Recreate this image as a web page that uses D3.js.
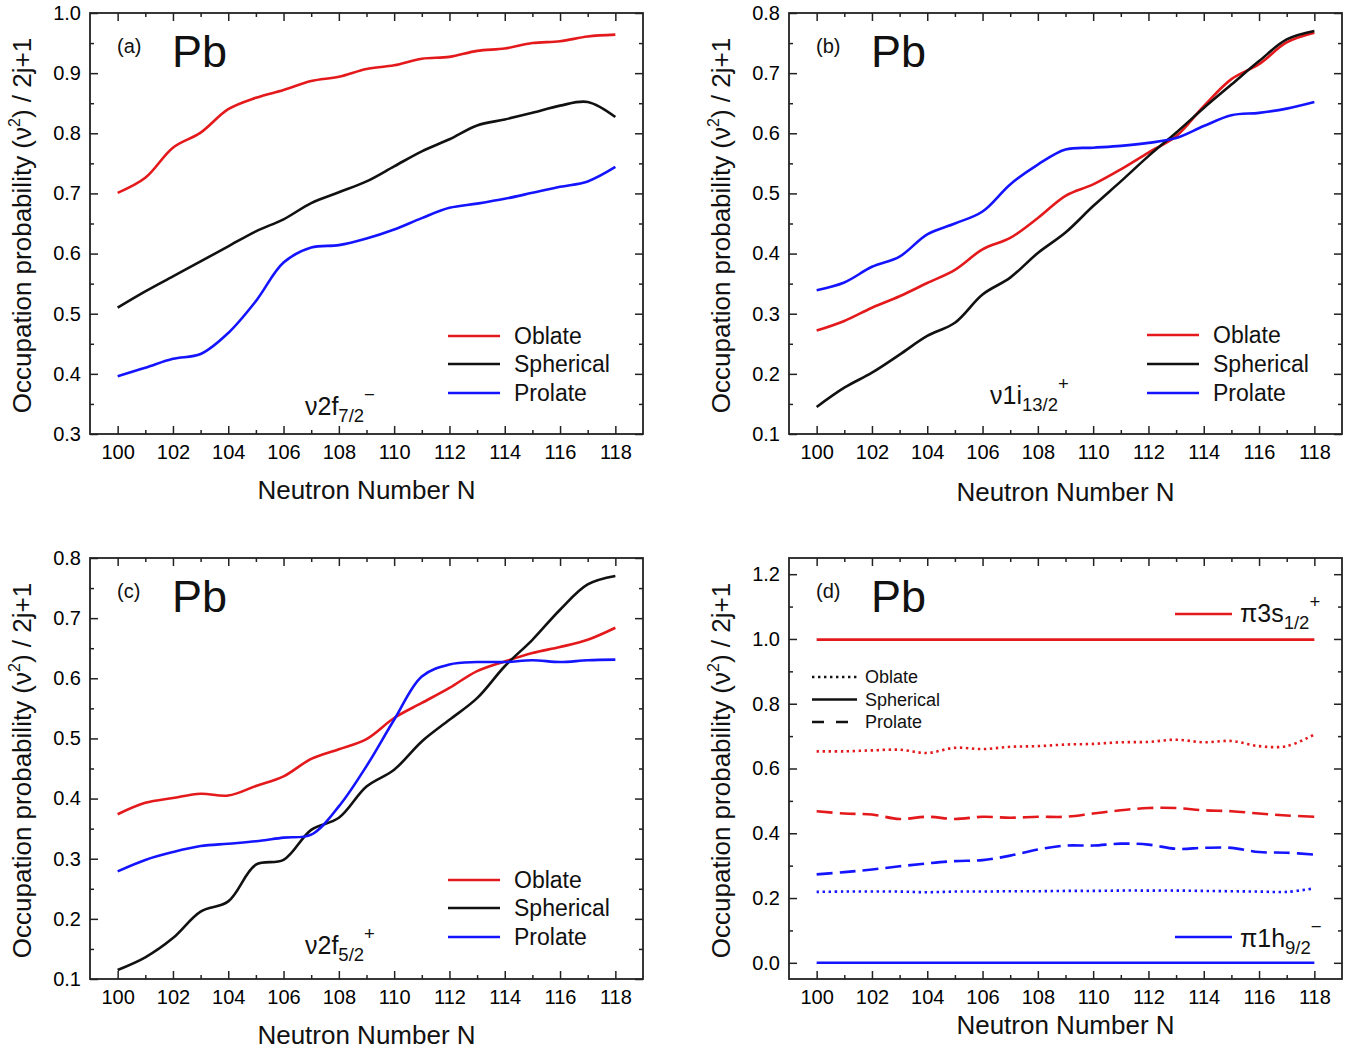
<!DOCTYPE html>
<html>
<head>
<meta charset="utf-8">
<script src="https://cdn.jsdelivr.net/npm/d3@7/dist/d3.min.js"></script>
<style>
body{margin:0;background:#fff;}
</style>
</head>
<body>
<svg id="mysvg" width="1360" height="1052"></svg>
<script>
// neutron numbers on the x axis
var neutrons = [100,101,102,103,104,105,106,107,108,109,110,111,112,113,114,115,116,117,118];
var xTicks = [100,102,104,106,108,110,112,114,116,118];
var xMinor = [101,103,105,107,109,111,113,115,117];

// (a) nu 2f7/2-
var a_oblate    = [0.701,0.726,0.776,0.801,0.840,0.859,0.872,0.887,0.894,0.907,0.913,0.924,0.927,0.937,0.941,0.950,0.953,0.961,0.964];
var a_spherical = [0.510,0.537,0.562,0.587,0.612,0.637,0.657,0.684,0.702,0.720,0.745,0.770,0.790,0.813,0.823,0.834,0.846,0.852,0.827];
var a_prolate   = [0.396,0.410,0.425,0.433,0.468,0.521,0.585,0.610,0.614,0.625,0.640,0.659,0.676,0.683,0.691,0.701,0.711,0.720,0.744];
var a_yTicks = [0.3,0.4,0.5,0.6,0.7,0.8,0.9,1.0];

// (b) nu 1i13/2+
var b_oblate    = [0.272,0.288,0.310,0.329,0.351,0.373,0.407,0.426,0.459,0.496,0.515,0.540,0.568,0.595,0.645,0.690,0.715,0.751,0.767];
var b_spherical = [0.145,0.177,0.202,0.232,0.263,0.285,0.332,0.360,0.401,0.435,0.479,0.520,0.562,0.601,0.642,0.681,0.720,0.756,0.770];
var b_prolate   = [0.339,0.352,0.378,0.395,0.432,0.450,0.470,0.515,0.548,0.573,0.576,0.579,0.584,0.592,0.612,0.630,0.634,0.641,0.652];
var b_yTicks = [0.1,0.2,0.3,0.4,0.5,0.6,0.7,0.8];

// (c) nu 2f5/2+
var c_oblate    = [0.374,0.393,0.401,0.408,0.405,0.421,0.437,0.466,0.482,0.499,0.534,0.559,0.584,0.612,0.628,0.642,0.652,0.664,0.684];
var c_spherical = [0.115,0.136,0.168,0.212,0.229,0.290,0.298,0.348,0.368,0.420,0.448,0.495,0.531,0.567,0.620,0.664,0.714,0.756,0.770];
var c_prolate   = [0.279,0.298,0.311,0.321,0.325,0.329,0.335,0.340,0.387,0.454,0.531,0.603,0.623,0.627,0.627,0.630,0.627,0.630,0.631];
var c_yTicks = [0.1,0.2,0.3,0.4,0.5,0.6,0.7,0.8];

// (d) proton 3s1/2+ (red) and 1h9/2- (blue)
var d_s_oblate    = [0.653,0.653,0.656,0.658,0.648,0.664,0.660,0.667,0.669,0.674,0.676,0.681,0.682,0.689,0.681,0.685,0.669,0.669,0.705];
var d_s_spherical = [0.998,0.998,0.998,0.998,0.998,0.998,0.998,0.998,0.998,0.998,0.998,0.998,0.998,0.998,0.998,0.998,0.998,0.998,0.998];
var d_s_prolate   = [0.468,0.461,0.458,0.444,0.451,0.444,0.451,0.448,0.451,0.451,0.461,0.471,0.478,0.478,0.471,0.468,0.461,0.455,0.451];
var d_h_oblate    = [0.219,0.220,0.220,0.220,0.218,0.220,0.220,0.221,0.221,0.222,0.222,0.223,0.223,0.223,0.222,0.221,0.220,0.219,0.230];
var d_h_spherical = [0.000,0.000,0.000,0.000,0.000,0.000,0.000,0.000,0.000,0.000,0.000,0.000,0.000,0.000,0.000,0.000,0.000,0.000,0.000];
var d_h_prolate   = [0.273,0.280,0.288,0.298,0.307,0.314,0.317,0.331,0.350,0.362,0.362,0.368,0.365,0.352,0.355,0.355,0.342,0.340,0.334];
var d_yTicks = [0.0,0.2,0.4,0.6,0.8,1.0,1.2];

var shapeNames = ["Oblate","Spherical","Prolate"];

var FONT = "'Liberation Sans', Arial, sans-serif";
var RED = "#e3191c", BLUE = "#1414ff";
var W = 553, H = 421;

var svg = d3.select("#mysvg").attr("font-family", FONT);

function pack(vals){
  return neutrons.map(function(n,i){ return {n:n, v:vals[i]}; });
}

function drawPanel(p){
  var g = svg.append("g").attr("transform","translate(" + p.left + "," + p.top + ")");
  var x = d3.scaleLinear().domain([99,119]).range([0,W]);
  var y = d3.scaleLinear().domain(p.ydomain).range([H,0]);

  function styleAxis(sel){
    sel.attr("font-family", FONT).attr("font-size", 20).attr("fill","#111");
    sel.select(".domain").remove();
    sel.selectAll(".tick line").attr("stroke","#222").attr("stroke-width",1.5);
  }

  // bottom / top
  g.append("g").attr("transform","translate(0," + H + ")")
    .call(d3.axisBottom(x).tickValues(xTicks).tickSize(-8).tickPadding(11).tickFormat(d3.format("d")))
    .call(styleAxis);
  g.append("g").attr("transform","translate(0," + H + ")")
    .call(d3.axisBottom(x).tickValues(xMinor).tickSize(-4).tickFormat(""))
    .call(styleAxis);
  g.append("g")
    .call(d3.axisTop(x).tickValues(xTicks).tickSize(-8).tickFormat(""))
    .call(styleAxis);
  g.append("g")
    .call(d3.axisTop(x).tickValues(xMinor).tickSize(-4).tickFormat(""))
    .call(styleAxis);

  // left / right
  g.append("g")
    .call(d3.axisLeft(y).tickValues(p.yTicks).tickSize(-8).tickPadding(9).tickFormat(d3.format(".1f")))
    .call(styleAxis);
  g.append("g")
    .call(d3.axisLeft(y).tickValues(p.yMinor).tickSize(-4).tickFormat(""))
    .call(styleAxis);
  g.append("g").attr("transform","translate(" + W + ",0)")
    .call(d3.axisRight(y).tickValues(p.yTicks).tickSize(-8).tickFormat(""))
    .call(styleAxis);
  g.append("g").attr("transform","translate(" + W + ",0)")
    .call(d3.axisRight(y).tickValues(p.yMinor).tickSize(-4).tickFormat(""))
    .call(styleAxis);

  g.append("rect").attr("width",W).attr("height",H)
    .attr("fill","none").attr("stroke","#222").attr("stroke-width",1.8);

  var line = d3.line()
    .x(function(d){ return x(d.n); })
    .y(function(d){ return y(d.v); })
    .curve(d3.curveCatmullRom.alpha(0.5));

  p.series.forEach(function(s){
    g.append("path")
      .datum(pack(s.vals))
      .attr("d", line)
      .attr("fill","none")
      .attr("stroke", s.color)
      .attr("stroke-width", 2.6)
      .attr("stroke-dasharray", s.dash || null);
  });

  // axis titles
  g.append("text")
    .attr("x", W/2).attr("y", p.xTitleY)
    .attr("text-anchor","middle")
    .attr("font-size", 26).attr("fill","#111")
    .text("Neutron Number N");

  var yt = g.append("text")
    .attr("transform","translate(-59," + (H/2 + 2) + ") rotate(-90)")
    .attr("text-anchor","middle")
    .attr("font-size", 26).attr("fill","#111");
  yt.append("tspan").text("Occupation probability (\u03BD");
  yt.append("tspan").attr("font-size",16).attr("dy",-11).text("2");
  yt.append("tspan").attr("dy",11).text(") / 2j+1");

  // panel tag and element
  g.append("text").attr("x", 27).attr("y", 40).attr("font-size", 20).attr("fill","#111").text(p.tag);
  g.append("text").attr("x", 82).attr("y", 54).attr("font-size", 45).attr("fill","#111").text("Pb");

  return {g:g, x:x, y:y};
}

function orbitLabel(g, xPos, yPos, main, sub, sup, size){
  var t = g.append("text").attr("x", xPos).attr("y", yPos).attr("font-size", size).attr("fill","#111");
  t.append("tspan").text(main);
  t.append("tspan").attr("font-size", size*0.74).attr("dy", size*0.28).text(sub);
  t.append("tspan").attr("font-size", size*0.74).attr("dy", -size*0.85).text(sup);
}

function colourLegend(g, ys){
  var cols = [RED, "#111", BLUE];
  shapeNames.forEach(function(name,i){
    g.append("line").attr("x1",358).attr("x2",410).attr("y1",ys[i]).attr("y2",ys[i])
      .attr("stroke", cols[i]).attr("stroke-width",2.6);
    g.append("text").attr("x",424).attr("y",ys[i]).attr("dy","0.35em")
      .attr("font-size",23).attr("fill","#111").text(name);
  });
}

// (a)
var pa = drawPanel({
  left:90, top:13, ydomain:[0.3,1.0], yTicks:a_yTicks,
  yMinor:[0.35,0.45,0.55,0.65,0.75,0.85,0.95], tag:"(a)", xTitleY:486,
  series:[{vals:a_oblate,color:RED},{vals:a_spherical,color:"#111"},{vals:a_prolate,color:BLUE}]
});
colourLegend(pa.g, [323,351,380]);
orbitLabel(pa.g, 215, 402, "\u03BD2f", "7/2", "\u2212", 25);

// (b)
var pb = drawPanel({
  left:789, top:13, ydomain:[0.1,0.8], yTicks:b_yTicks,
  yMinor:[0.15,0.25,0.35,0.45,0.55,0.65,0.75], tag:"(b)", xTitleY:488,
  series:[{vals:b_oblate,color:RED},{vals:b_spherical,color:"#111"},{vals:b_prolate,color:BLUE}]
});
colourLegend(pb.g, [322,351,380]);
orbitLabel(pb.g, 201, 391, "\u03BD1i", "13/2", "+", 25);

// (c)
var pc = drawPanel({
  left:90, top:558, ydomain:[0.1,0.8], yTicks:c_yTicks,
  yMinor:[0.15,0.25,0.35,0.45,0.55,0.65,0.75], tag:"(c)", xTitleY:486,
  series:[{vals:c_oblate,color:RED},{vals:c_spherical,color:"#111"},{vals:c_prolate,color:BLUE}]
});
colourLegend(pc.g, [322,350,379]);
orbitLabel(pc.g, 215, 396, "\u03BD2f", "5/2", "+", 25);

// (d)
var DOT = "2.4,3.6", DASH = "16,7";
var pd = drawPanel({
  left:789, top:558, ydomain:[-0.05,1.25], yTicks:d_yTicks,
  yMinor:[0.1,0.3,0.5,0.7,0.9,1.1], tag:"(d)", xTitleY:476,
  series:[
    {vals:d_s_spherical,color:RED},
    {vals:d_s_oblate,color:RED,dash:DOT},
    {vals:d_s_prolate,color:RED,dash:DASH},
    {vals:d_h_prolate,color:BLUE,dash:DASH},
    {vals:d_h_oblate,color:BLUE,dash:DOT},
    {vals:d_h_spherical,color:BLUE}
  ]
});
var dashes = [DOT, null, "12,12"];
shapeNames.forEach(function(name,i){
  var yy = 119 + i*22.5;
  pd.g.append("line").attr("x1",23).attr("x2",68).attr("y1",yy).attr("y2",yy)
    .attr("stroke","#111").attr("stroke-width",2.4).attr("stroke-dasharray", dashes[i]);
  pd.g.append("text").attr("x",76).attr("y",yy).attr("dy","0.35em")
    .attr("font-size",18).attr("fill","#111").text(name);
});
pd.g.append("line").attr("x1",386).attr("x2",443).attr("y1",56).attr("y2",56).attr("stroke",RED).attr("stroke-width",2.6);
orbitLabel(pd.g, 451, 64, "\u03C03s", "1/2", "+", 25);
pd.g.append("line").attr("x1",386).attr("x2",443).attr("y1",379).attr("y2",379).attr("stroke",BLUE).attr("stroke-width",2.6);
orbitLabel(pd.g, 451, 389, "\u03C01h", "9/2", "\u2212", 25);
</script>
</body>
</html>
